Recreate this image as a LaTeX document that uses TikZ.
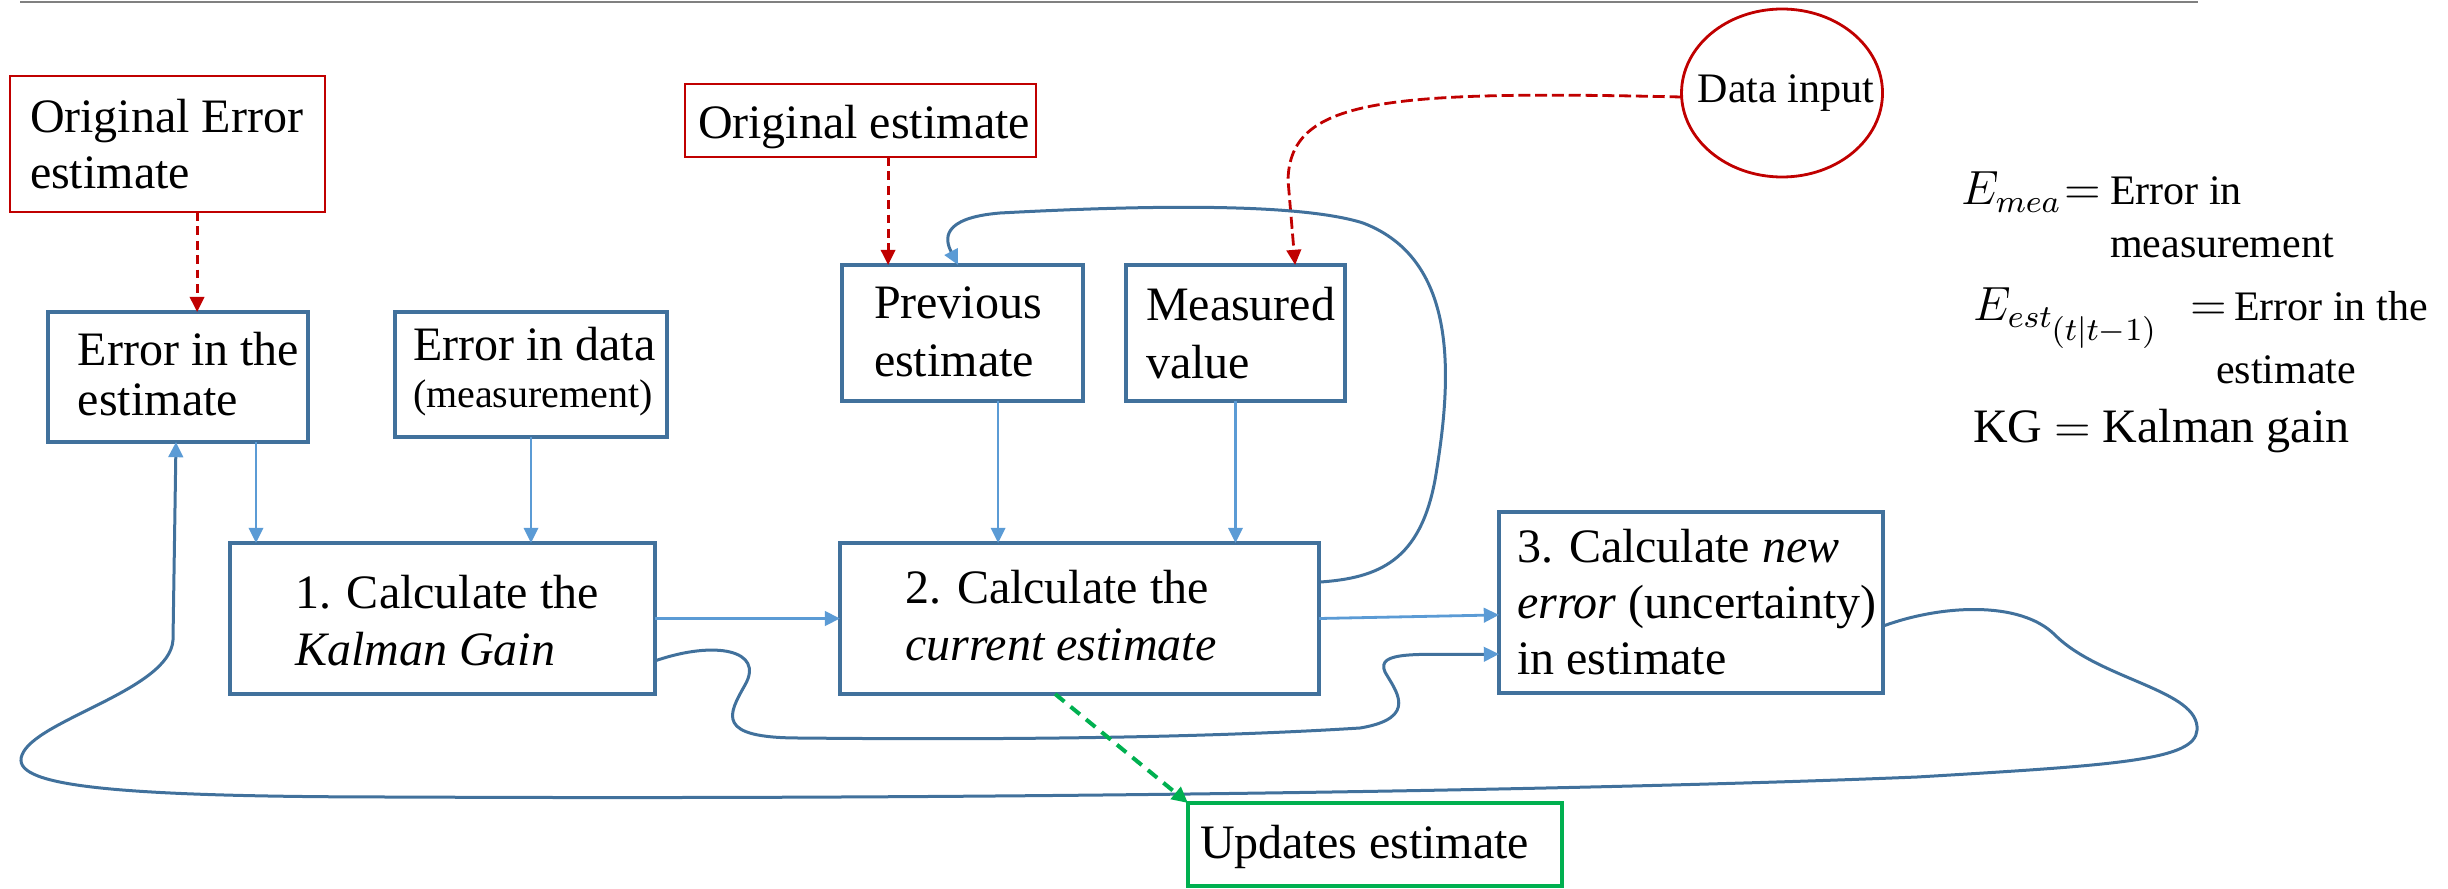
\documentclass[tikz,border=0pt]{standalone}
\usepackage{fontspec}
\setmainfont{Liberation Serif}
\usetikzlibrary{arrows.meta,shapes.geometric,calc}
\definecolor{boxblue}{HTML}{41719C}
\definecolor{arrblue}{HTML}{5B9BD5}
\definecolor{pptred}{HTML}{C00000}
\definecolor{pptgreen}{HTML}{00B050}
\begin{document}
\begin{tikzpicture}[x=0.25pt,y=-0.25pt,
  every node/.style={outer sep=0pt},
  bluebox/.style={draw=boxblue,line width=0.8pt,anchor=north west,inner sep=0pt},
  redbox/.style={draw=pptred,line width=0.7pt,anchor=north west,inner sep=0pt},
  greenbox/.style={draw=pptgreen,line width=1pt,anchor=north west,inner sep=0pt},
  boxtext/.style={inner sep=0pt,anchor=north west,align=left,font=\fontsize{12}{14}\selectfont},
  legtext/.style={inner sep=0pt,anchor=base west,font=\fontsize{10.5}{12}\selectfont},
  legmath/.style={inner sep=0pt,anchor=base west,font=\fontsize{12}{14}\selectfont},
  feedarrow/.style={draw=arrblue,line width=0.55pt,-{Triangle[length=3.8pt,width=3.6pt]}},
  fbloop/.style={draw=boxblue,line width=0.75pt,-{Triangle[length=3.8pt,width=3.6pt,color=arrblue]}},
  reddash/.style={draw=pptred,line width=0.7pt,dash pattern=on 2.2pt off 1.4pt,-{Triangle[length=3.8pt,width=3.6pt]}},
  greendash/.style={draw=pptgreen,line width=1pt,dash pattern=on 3pt off 2pt,-{Triangle[length=4pt,width=3.8pt]}}
]
\useasboundingbox (0,0) rectangle (2448,888);

% top rule
\coordinate (tl) at (20,2);
\coordinate (tr) at (2198,2);
\draw[gray,line width=0.6pt] (tl) -- (tr);

% red sources
\node[redbox,minimum width=78.75pt,minimum height=34pt] (origerr) at (10,76) {};
\node[boxtext] (origerrT) at (30,99) {Original Error\\estimate};
\node[redbox,minimum width=87.75pt,minimum height=18.25pt] (origest) at (685,84) {};
\node[boxtext] (origestT) at (698,105) {Original estimate};
\node[draw=pptred,line width=0.7pt,ellipse,minimum width=50.25pt,minimum height=42pt,inner sep=0pt] (datain) at (1782,93) {};
\node[inner sep=0pt,font=\fontsize{10.5}{12}\selectfont] (dataintext) at (1786,93) {Data input};

% blue boxes
\node[bluebox,minimum width=65pt,minimum height=32.5pt] (errest) at (48,312) {};
\node[boxtext,font=\fontsize{12}{12.5}\selectfont] (errestT) at (78,332) {Error in the\\estimate};
\node[bluebox,minimum width=68pt,minimum height=31.25pt] (errdata) at (395,312) {};
\node[boxtext,font=\fontsize{12}{11.75}\selectfont] (errdataT) at (413,327) {Error in data\\{\fontsize{10}{11.75}\selectfont (measurement)}};
\node[bluebox,minimum width=60.25pt,minimum height=34pt] (prevest) at (842,265) {};
\node[boxtext,font=\fontsize{12}{14.5}\selectfont] (prevestT) at (874,287) {Previous\\estimate};
\node[bluebox,minimum width=54.75pt,minimum height=34pt] (measval) at (1126,265) {};
\node[boxtext,font=\fontsize{12}{14.5}\selectfont] (measvalT) at (1146,287) {Measured\\value};
\node[bluebox,minimum width=106.25pt,minimum height=37.75pt] (kg) at (230,543) {};
\node[boxtext,font=\fontsize{12}{14.25}\selectfont] (kgT) at (295,575) {1. Calculate the\\\textit{Kalman Gain}};
\node[bluebox,minimum width=119.75pt,minimum height=37.75pt] (cur) at (840,543) {};
\node[boxtext,font=\fontsize{12}{14.25}\selectfont] (curT) at (905,570) {2. Calculate the\\\textit{current estimate}};
\node[bluebox,minimum width=96pt,minimum height=45.25pt] (newerr) at (1499,512) {};
\node[boxtext] (newerrT) at (1517,529) {3. Calculate \textit{new}\\\textit{error} (uncertainty)\\in estimate};
\node[greenbox,minimum width=93.5pt,minimum height=20.75pt] (upd) at (1188,803) {};
\node[boxtext] (updT) at (1200,825) {Updates estimate};

% legend
\node[legmath] (lgE1) at (1961,205) {$E_{mea}$};
\node[legmath] (lgQ1) at (2064,205) {$=$};
\node[legtext] (lgT1) at (2110,205) {Error in};
\node[legtext] (lgT1b) at (2110,257) {measurement};
\node[legmath] (lgE2) at (1973,320) {$E_{est_{\scriptstyle(t|t-1)}}$};
\node[legmath] (lgQ2) at (2190,320) {$=$};
\node[legtext] (lgT2) at (2234,320) {Error in the};
\node[legtext] (lgT2b) at (2216,383) {estimate};
\node[inner sep=0pt,anchor=base west,font=\fontsize{12}{14}\selectfont] (lgKG) at (1973,442) {KG $=$ Kalman gain};

% red dashed inputs
\draw[reddash] ([xshift=7.4pt]origerr.south) coordinate (c1) -- (c1 |- errest.north);
\draw[reddash] ([xshift=6.9pt]origest.south) coordinate (c2) -- (c2 |- prevest.north);
\draw[reddash,dash pattern=on 3pt off 1.2pt] ([yshift=-1pt]datain.west) .. controls (1380,90) and (1290,100) .. (1288,180) -- ([xshift=14.9pt]measval.north);

% straight blue arrows
\draw[feedarrow] ([xshift=19.5pt]errest.south) coordinate (c3) -- (c3 |- kg.north);
\draw[feedarrow] (errdata.south) -- (errdata.south |- kg.north);
\draw[feedarrow] ([xshift=8.9pt]prevest.south) coordinate (c4) -- (c4 |- cur.north);
\draw[feedarrow] (measval.south) -- (measval.south |- cur.north);
\draw[feedarrow,line width=0.85pt] (kg.east) -- (kg.east -| cur.west);
\draw[feedarrow,line width=0.7pt] (cur.east) -- ([yshift=-3.1pt]newerr.west);

% curved feedback connectors
\draw[fbloop] ([yshift=-10.6pt]kg.east) .. controls (715,640) and (765,650) .. (745,685)
  .. controls (728,715) and (715,738) .. (800,738)
  .. controls (1000,740) and (1200,738) .. (1360,728)
  .. controls (1420,718) and (1395,690) .. (1385,672)
  .. controls (1375,650) and (1420,655) .. ([yshift=-12.9pt]newerr.west);
\draw[fbloop] ([yshift=9.1pt]cur.east) .. controls (1380,578) and (1420,560) .. (1435,480)
  .. controls (1452,380) and (1460,260) .. (1363,223)
  .. controls (1300,203) and (1150,205) .. (1000,213)
  .. controls (940,218) and (945,240) .. ([xshift=-1.1pt]prevest.north);
\draw[fbloop] ([yshift=-5.9pt]newerr.east) .. controls (1940,605) and (2020,600) .. (2055,635)
  .. controls (2100,680) and (2200,690) .. (2197,730)
  .. controls (2195,760) and (2120,765) .. (1917,777)
  .. controls (1600,790) and (1000,800) .. (400,797)
  .. controls (100,797) and (10,785) .. (22,755)
  .. controls (35,720) and (170,690) .. (173,640)
  -- ([xshift=-0.5pt]errest.south);

% output
\draw[greendash] ([xshift=-6.1pt]cur.south) -- (upd.north west);
\end{tikzpicture}
\end{document}
